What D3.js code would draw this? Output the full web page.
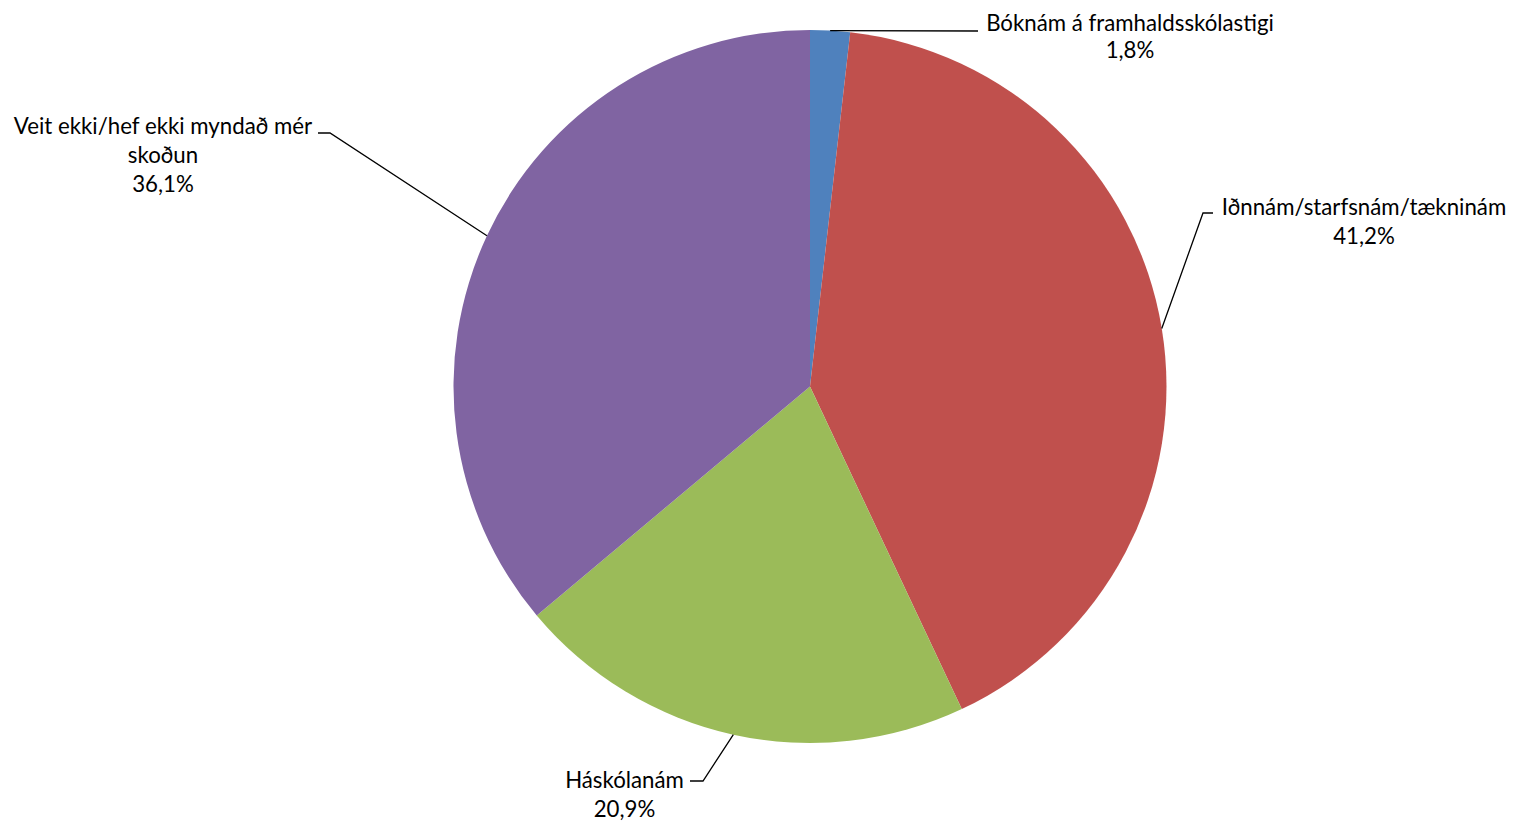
<!DOCTYPE html>
<html>
<head>
<meta charset="utf-8">
<script src="https://cdn.jsdelivr.net/npm/d3@7"></script>
<style>
  html, body { margin: 0; padding: 0; background: #ffffff; }
  svg { display: block; }
  text { font-family: Lato, "Open Sans", sans-serif; fill: #000; }
</style>
</head>
<body>
<svg id="chart" width="1515" height="821"></svg>
<script>
// ---- data ----
const categories = [
  "Bóknám á framhaldsskólastigi",
  "Iðnnám/starfsnám/tækninám",
  "Háskólanám",
  "Veit ekki/hef ekki myndað mér skoðun"
];
const values = [1.8, 41.2, 20.9, 36.1];
const valueLabels = ["1,8%", "41,2%", "20,9%", "36,1%"];
const colors = ["#4F81BD", "#C0504D", "#9BBB59", "#8064A2"];
// label text lines (wrapped as in the reference)
const labelLines = [
  ["Bóknám á framhaldsskólastigi", "1,8%"],
  ["Iðnnám/starfsnám/tækninám", "41,2%"],
  ["Háskólanám", "20,9%"],
  ["Veit ekki/hef ekki myndað mér", "skoðun", "36,1%"]
];

// ---- layout (positions of labels/leader lines) ----
const cx = 810, cy = 386.5, R = 356.5;
const labelLayout = [
  { x: 1130, y: 31,  lh: 26.5, elbow: [978, 31],  end: [978, 31] },
  { x: 1364, y: 215, lh: 29,   elbow: [1203, 213], end: [1213, 213] },
  { x: 624.5, y: 788, lh: 29,  elbow: [703, 781], end: [690, 781] },
  { x: 163,  y: 134, lh: 29,   elbow: [330, 133], end: [318, 133] }
];

const svg = d3.select("#chart");

// fit font size so the widest label matches the reference width (~288px)
const probe = svg.append("text").attr("font-size", 24).text("Bóknám á framhaldsskólastigi");
const w = probe.node().getComputedTextLength();
probe.remove();
const fontSize = 24 * 288 / w;

const data = categories.map((c, i) => ({ cat: c, value: values[i], color: colors[i], lines: labelLines[i], lay: labelLayout[i] }));

const pie = d3.pie().sort(null).value(d => d.value);
const arcs = pie(data);
const arc = d3.arc().innerRadius(0).outerRadius(R);

const g = svg.append("g").attr("transform", `translate(${cx},${cy})`);
g.selectAll("path.slice")
  .data(arcs)
  .join("path")
  .attr("class", "slice")
  .attr("d", arc)
  .attr("fill", d => d.data.color);

// leader lines
const line = d3.line();
svg.selectAll("path.leader")
  .data(arcs)
  .join("path")
  .attr("class", "leader")
  .attr("fill", "none")
  .attr("stroke", "#000")
  .attr("stroke-width", 1.3)
  .attr("d", d => {
    const a = (d.startAngle + d.endAngle) / 2;
    const p0 = [cx + R * Math.sin(a), cy - R * Math.cos(a)];
    return line([p0, d.data.lay.elbow, d.data.lay.end]);
  });

// labels
const lbl = svg.selectAll("text.lbl")
  .data(data)
  .join("text")
  .attr("class", "lbl")
  .attr("text-anchor", "middle")
  .attr("font-size", fontSize);
lbl.each(function(d) {
  const t = d3.select(this);
  d.lines.forEach((s, i) => {
    t.append("tspan")
      .attr("x", d.lay.x)
      .attr("y", d.lay.y + i * d.lay.lh)
      .text(s);
  });
});
</script>
</body>
</html>
